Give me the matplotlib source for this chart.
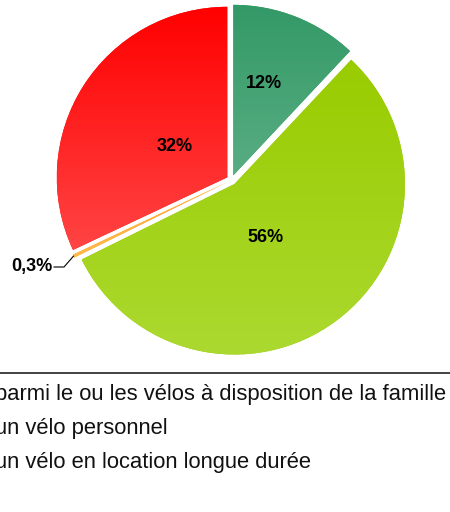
import matplotlib
matplotlib.use("Agg")
import matplotlib.pyplot as plt
import numpy as np

# ---- data ----
values = [12, 55.7, 0.3, 32]
legend_lines = [
    "parmi le ou les vélos à disposition de la famille",
    "un vélo personnel",
    "un vélo en location longue durée",
]

# ---- style ----
top_colors = ["#339966", "#99CC00", "#FFAA33", "#FF0000"]
bot_colors = ["#58AD82", "#ACD930", "#FFB84D", "#FF4444"]
label_dist = [0.57, 0.36, None, 0.36]
label_rot = [3.0, -6.5, 0.0, 2.0]
FONT = "Liberation Sans"

W, H = 450, 512
fig = plt.figure(figsize=(W / 100, H / 100), dpi=100)
ax = fig.add_axes([0, 0, 1, 1])

cx, cy, R = 231.5, 332.0, 170.5
wedges, _ = ax.pie(values, startangle=90, counterclock=False, center=(cx, cy),
                   radius=R, explode=[5] * len(values),
                   colors=top_colors, wedgeprops=dict(linewidth=0))


def hex2rgb(h):
    h = h.lstrip("#")
    return np.array([int(h[i:i + 2], 16) for i in (0, 2, 4)]) / 255.0


# gradient fills clipped to each wedge
for w, c0, c1 in zip(wedges, top_colors, bot_colors):
    ext = w.get_path().get_extents()
    n = 256
    t = np.linspace(0, 1, n)[:, None]
    grad = (1 - t) * hex2rgb(c0) + t * hex2rgb(c1)
    img = grad[:, None, :]
    im = ax.imshow(img, extent=[ext.x0, ext.x1, ext.y0, ext.y1], origin="upper",
                   aspect="auto", zorder=w.get_zorder() + 0.1, interpolation="bilinear")
    im.set_clip_path(w)


def fmt(v):
    if v < 1:
        return f"{v:.1f}".replace(".", ",") + "%"
    return f"{v:.0f}%"


for w, v, d, rot in zip(wedges, values, label_dist, label_rot):
    mid = np.deg2rad((w.theta1 + w.theta2) / 2 + rot)
    wx, wy = w.center
    if d is not None:
        ax.text(wx + d * R * np.cos(mid), wy + d * R * np.sin(mid), fmt(v),
                ha="center", va="center", fontsize=13, fontweight="bold",
                family=FONT, color="black", zorder=5)
    else:
        ox, oy = wx + w.r * np.cos(mid), wy + w.r * np.sin(mid)
        tx, ty = 53, 245
        ax.plot([tx + 1, tx + 11, ox], [ty, ty, oy], color="black", lw=0.8, zorder=5)
        ax.text(tx, ty, fmt(v), ha="right", va="center", fontsize=13,
                fontweight="bold", family=FONT, color="black", zorder=5)

# legend separator and text
ax.plot([0, W], [139, 139], color="#333333", lw=1.3, zorder=5)
for txt, yb in zip(legend_lines, [112, 78, 44]):
    ax.text(-5, yb, txt, ha="left", va="baseline", fontsize=15.8, family=FONT,
            color="#111111")

ax.set_xlim(0, W)
ax.set_ylim(0, H)
ax.set_aspect("auto")
ax.axis("off")
fig.savefig("out.png", dpi=100)
